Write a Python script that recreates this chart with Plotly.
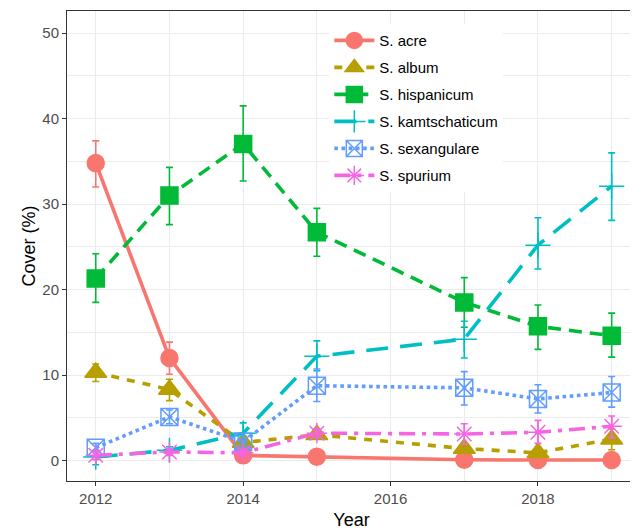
import plotly.graph_objects as go

years = [2012, 2013, 2014, 2015, 2017, 2018, 2019]
species = ["S. acre", "S. album", "S. hispanicum", "S. kamtschaticum", "S. sexangulare", "S. spurium"]

acre_mean = [34.8, 12.0, 0.6, 0.45, 0.08, 0.05, 0.05]
acre_hi = [37.4, 13.85, 1.0, 0.7, 0.2, 0.15, 0.15]
acre_lo = [32.0, 10.1, 0.2, 0.2, 0.0, 0.0, 0.0]

album_mean = [10.3, 8.3, 2.1, 3.0, 1.4, 0.9, 2.5]
album_hi = [11.3, 9.5, 2.7, 3.5, 1.8, 1.4, 3.7]
album_lo = [9.25, 7.0, 1.5, 2.5, 1.0, 0.4, 1.25]

hisp_mean = [21.3, 31.0, 37.05, 26.7, 18.5, 15.7, 14.6]
hisp_hi = [24.2, 34.3, 41.5, 29.5, 21.4, 18.2, 17.25]
hisp_lo = [18.5, 27.6, 32.7, 23.9, 15.6, 13.0, 12.1]

kamt_mean = [0.4, 1.2, 3.2, 12.2, 14.2, 25.2, 32.1]
kamt_hi = [1.2, 1.6, 4.4, 14.0, 16.3, 28.4, 36.0]
kamt_lo = [-0.5, 0.8, 2.0, 10.5, 12.0, 22.4, 28.1]

sexa_mean = [1.5, 5.1, 2.2, 8.75, 8.5, 7.2, 7.95]
sexa_hi = [2.0, 5.9, 2.9, 10.7, 10.4, 8.86, 9.83]
sexa_lo = [1.0, 4.3, 1.5, 6.9, 6.5, 5.55, 6.25]

spur_mean = [0.6, 1.0, 0.9, 3.2, 3.1, 3.3, 4.0]
spur_hi = [1.1, 1.4, 1.3, 3.7, 4.3, 4.7, 5.2]
spur_lo = [0.1, 0.6, 0.5, 2.7, 1.9, 2.0, 2.65]

means = [acre_mean, album_mean, hisp_mean, kamt_mean, sexa_mean, spur_mean]
his = [acre_hi, album_hi, hisp_hi, kamt_hi, sexa_hi, spur_hi]
los = [acre_lo, album_lo, hisp_lo, kamt_lo, sexa_lo, spur_lo]

colors = ["#F8766D", "#B79F00", "#00BA38", "#00BFC4", "#619CFF", "#F564E3"]
symbols = ["circle", "triangle-up", "square", "cross-thin-open", "square-x-open", "asterisk-open"]
sizes = [17, 19, 17, 18, 17, 17]
dashes = ["solid", "8px,8px", "13px,8px", "22px,12px", "dot", "16px,7px,4px,7px"]

fig = go.Figure()
for name, m, hi, lo, c, s, sz, d in zip(species, means, his, los, colors, symbols, sizes, dashes):
    fig.add_trace(go.Scatter(
        x=years, y=m, name=name, mode="lines+markers", legendgroup=name,
        line=dict(color=c, width=3.6, dash=d),
        marker=dict(symbol=s, size=sz, color=c, line=dict(color=c, width=1.5)),
        error_y=dict(type="data", symmetric=False,
                     array=[h - v for h, v in zip(hi, m)],
                     arrayminus=[v - l for v, l in zip(m, lo)],
                     color=c, thickness=1.6, width=3.5),
    ))

# page body has an 8px margin: figure is sized/offset to land the plot area at the reference position
fig.update_layout(
    width=630, height=522,
    margin=dict(l=59, r=2, t=3, b=49),
    paper_bgcolor="white", plot_bgcolor="white",
    font=dict(family="Liberation Sans, Arial, sans-serif", size=15, color="#000000"),
    legend=dict(x=0.461, y=0.972, xanchor="left", yanchor="top",
                bgcolor="rgba(255,255,255,1)", font=dict(size=15, color="#000000"),
                itemwidth=40, tracegroupgap=4.5),
    showlegend=True,
)
fig.update_xaxes(
    range=[2011.61, 2019.33], tickmode="array", tickvals=[2012, 2014, 2016, 2018],
    ticks="outside", ticklen=4, tickcolor="#333333", tickwidth=1,
    tickfont=dict(size=15, color="#4D4D4D"),
    showgrid=True, gridcolor="#EBEBEB", gridwidth=1.1,
    minor=dict(tickvals=[2013, 2015, 2017, 2019], showgrid=True, gridcolor="#EBEBEB", gridwidth=0.6, ticks=""),
    showline=True, linecolor="#333333", linewidth=1, mirror=True, zeroline=False,
    title=dict(text="Year", font=dict(size=18, color="#000000"), standoff=7),
)
fig.update_yaxes(
    range=[-2.4, 52.6], tickmode="array", tickvals=[0, 10, 20, 30, 40, 50],
    ticks="outside", ticklen=4, tickcolor="#333333", tickwidth=1,
    tickfont=dict(size=15, color="#4D4D4D"),
    showgrid=True, gridcolor="#EBEBEB", gridwidth=1.1,
    minor=dict(tickvals=[5, 15, 25, 35, 45], showgrid=True, gridcolor="#EBEBEB", gridwidth=0.6, ticks=""),
    showline=True, linecolor="#333333", linewidth=1, mirror=True, zeroline=False,
    title=dict(text="Cover (%)", font=dict(size=18, color="#000000"), standoff=2),
)

fig.write_html("out.html")
